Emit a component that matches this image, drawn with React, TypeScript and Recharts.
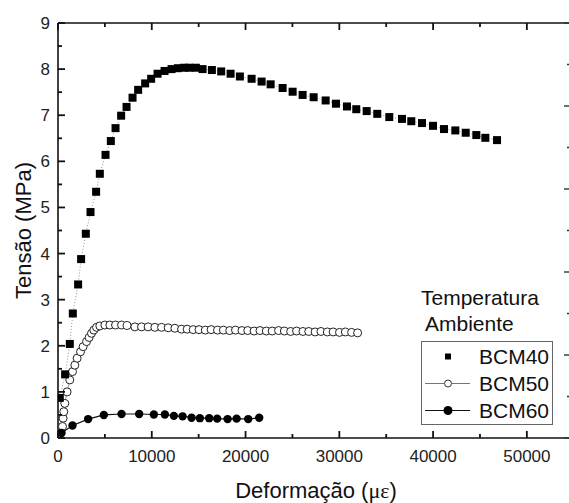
import { LineChart, Line, XAxis, YAxis, Legend } from 'recharts';

// strain (με) and stress (MPa)
const bcm40Strain = [
  192, 758, 1259, 1579, 2145, 2465, 2966, 3468, 4065, 4460, 5068, 5634, 6135, 6733, 7309, 7949,
  8547, 9294, 9934, 10617, 11364, 12110, 12783, 13455, 13989, 14703, 15418, 16410, 17403, 18406,
  19398, 20646, 21713, 22674, 23954, 25021, 26088, 27262, 28542, 29641, 30815, 31807, 32917,
  34048, 35328, 36684, 37676, 38818, 39991, 41165, 42371, 43481, 44611, 45572, 46820,
];
const bcm40Stress = [
  0.87, 1.38, 2.04, 2.7, 3.33, 3.88, 4.43, 4.9, 5.34, 5.73, 6.14, 6.44, 6.72, 6.99, 7.18, 7.38,
  7.55, 7.69, 7.79, 7.9, 7.96, 8.0, 8.02, 8.03, 8.03, 8.03, 8.0, 7.98, 7.95, 7.9,
  7.84, 7.79, 7.73, 7.67, 7.59, 7.51, 7.44, 7.39, 7.32, 7.25, 7.19, 7.13, 7.09,
  7.03, 6.96, 6.92, 6.87, 6.83, 6.77, 6.7, 6.67, 6.62, 6.57, 6.51, 6.46,
];

const bcm50Strain = [
  480, 544, 619, 726, 971, 1259, 1547, 1793, 2038, 2401, 2678, 3041, 3318, 3574, 3820, 4108,
  4460, 4994, 5527, 6135, 6776, 7373, 8195, 8909, 9614, 10329, 11043, 11748, 12463, 13178, 13775,
  14420, 15040, 15710, 16330, 17010, 17640, 18310, 18930, 19620, 20240, 20910, 21540, 22210,
  22840, 23520, 24140, 24810, 25440, 26120, 26740, 27420, 28040, 28720, 29340, 30020, 30640,
  31310, 31950,
];
const bcm50Stress = [
  0.25, 0.43, 0.57, 0.75, 1.0, 1.26, 1.44, 1.58, 1.73, 1.87, 1.98, 2.09, 2.18, 2.27, 2.34, 2.4,
  2.43, 2.45, 2.45, 2.45, 2.45, 2.44, 2.41, 2.41, 2.41, 2.4, 2.4, 2.39, 2.38, 2.36, 2.36,
  2.35, 2.35, 2.34, 2.35, 2.34, 2.34, 2.33, 2.34, 2.33, 2.33, 2.32, 2.33, 2.32,
  2.32, 2.33, 2.32, 2.31, 2.32, 2.31, 2.31, 2.3, 2.31, 2.3, 2.3, 2.29, 2.3,
  2.29, 2.28,
];

const bcm60Strain = [
  373, 1547, 3212, 4887, 6776, 8653, 10222, 11396, 12356, 13284, 14244, 15130, 16122, 16976,
  18086, 19046, 20284, 21457,
];
const bcm60Stress = [
  0.11, 0.27, 0.41, 0.5, 0.52, 0.52, 0.51, 0.51, 0.48, 0.47, 0.44, 0.43, 0.43, 0.42,
  0.41, 0.42, 0.41, 0.44,
];

const xTicks = [0, 5000, 10000, 15000, 20000, 25000, 30000, 35000, 40000, 45000, 50000];
const yTicks = [0, 0.5, 1, 1.5, 2, 2.5, 3, 3.5, 4, 4.5, 5, 5.5, 6, 6.5, 7, 7.5, 8, 8.5, 9];
const rightTicks = [0, 0.5, 1, 1.5, 2, 2.5, 3, 3.5, 4, 4.5, 5];

const toPoints = (xs: number[], ys: number[]) => xs.map((x, i) => ({ x, y: ys[i] }));

const bcm40 = toPoints(bcm40Strain, bcm40Stress);
const bcm50 = toPoints(bcm50Strain, bcm50Stress);
const bcm60 = toPoints(bcm60Strain, bcm60Stress);

const FONT = '"Liberation Sans", Arial, sans-serif';
const AXIS = '#111';

// ticks point inward, minor ones shorter and unlabelled
const BottomTick = (props: any) => {
  const { x, y, payload } = props;
  const major = payload.value % 10000 === 0;
  return (
    <g>
      <line x1={x} y1={y} x2={x} y2={y - (major ? 7 : 4)} stroke={AXIS} strokeWidth={1.8} />
      {major && (
        <text x={x} y={y + 24} textAnchor="middle" fontSize={17} fontFamily={FONT} fill="#222">
          {payload.value}
        </text>
      )}
    </g>
  );
};

const TopTick = (props: any) => {
  const { x, y, payload } = props;
  const major = payload.value % 10000 === 0;
  return <line x1={x} y1={y} x2={x} y2={y + (major ? 7 : 4)} stroke={AXIS} strokeWidth={1.8} />;
};

const LeftTick = (props: any) => {
  const { x, y, payload } = props;
  const major = Number.isInteger(payload.value);
  return (
    <g>
      <line x1={x} y1={y} x2={x + (major ? 7 : 4)} y2={y} stroke={AXIS} strokeWidth={1.8} />
      {major && (
        <text x={x - 8} y={y + 6} textAnchor="end" fontSize={17} fontFamily={FONT} fill="#222">
          {payload.value}
        </text>
      )}
    </g>
  );
};

const RightTick = (props: any) => {
  const { x, y, payload } = props;
  const major = Number.isInteger(payload.value);
  return <line x1={x} y1={y} x2={x - (major ? 6 : 3)} y2={y} stroke="#333" strokeWidth={1.4} />;
};

const SquareDot = (props: any) => {
  const { cx, cy, index } = props;
  return <rect key={`s${index}`} x={cx - 4} y={cy - 4} width={8} height={8} fill="#000" />;
};

const OpenDot = (props: any) => {
  const { cx, cy, index } = props;
  return <circle key={`o${index}`} cx={cx} cy={cy} r={4} fill="#fff" stroke="#222" strokeWidth={1} />;
};

const FilledDot = (props: any) => {
  const { cx, cy, index } = props;
  return <circle key={`f${index}`} cx={cx} cy={cy} r={4.2} fill="#000" />;
};

const XTitle = (props: any) => {
  const { viewBox } = props;
  return (
    <text x={viewBox.x + viewBox.width / 2 + 2} y={viewBox.y + 60} textAnchor="middle" fontSize={22} fontFamily={FONT} fill="#111">
      Deformação (<tspan fontFamily='"Liberation Serif", serif'>με</tspan>)
    </text>
  );
};

const YTitle = (props: any) => {
  const { viewBox } = props;
  const cy = viewBox.y + viewBox.height / 2;
  return (
    <text x={31} y={cy} transform={`rotate(-90 31 ${cy})`} textAnchor="middle" fontSize={22} fontFamily={FONT} fill="#111">
      Tensão (MPa)
    </text>
  );
};

const legendRows = [
  { name: 'BCM40', kind: 'square' },
  { name: 'BCM50', kind: 'open' },
  { name: 'BCM60', kind: 'filled' },
];

const LegendBox = () => (
  <div style={{ fontFamily: FONT, color: '#111' }}>
    <div style={{ fontSize: 21, lineHeight: '26px' }}>Temperatura</div>
    <div style={{ fontSize: 21, lineHeight: '26px', paddingLeft: 4 }}>Ambiente</div>
    <div style={{ marginTop: 4, width: 132, height: 84, boxSizing: 'border-box', border: '1px solid #666', paddingTop: 1 }}>
      {legendRows.map((r) => (
        <div key={r.name} style={{ display: 'flex', alignItems: 'center', height: 27 }}>
          <svg width={50} height={27} style={{ display: 'block' }}>
            {r.kind !== 'square' && (
              <line x1={3} y1={13.5} x2={48} y2={13.5} stroke={r.kind === 'open' ? '#777' : '#111'} strokeWidth={1} />
            )}
            {r.kind === 'square' && <rect x={23} y={10.5} width={6} height={6} fill="#000" />}
            {r.kind === 'open' && <circle cx={26} cy={13.5} r={3.5} fill="#fff" stroke="#333" />}
            {r.kind === 'filled' && <circle cx={26} cy={13.5} r={4.5} fill="#000" />}
          </svg>
          <span style={{ fontSize: 21, marginLeft: 7, lineHeight: '27px' }}>{r.name}</span>
        </div>
      ))}
    </div>
  </div>
);

export default function App() {
  return (
    <div style={{ position: 'absolute', left: 0, top: 0, width: 569, height: 503, overflow: 'hidden', background: '#fff' }}>
      <LineChart width={572} height={503} margin={{ top: 12, right: 1, bottom: 25, left: 18 }}>
        <XAxis
          dataKey="x"
          type="number"
          domain={[0, 54600]}
          allowDataOverflow
          ticks={xTicks}
          interval={0}
          height={40}
          tickSize={0}
          tickMargin={0}
          tickLine={false}
          axisLine={{ stroke: AXIS, strokeWidth: 1.6 }}
          tick={BottomTick}
          label={{ content: XTitle }}
        />
        <XAxis
          xAxisId="top"
          dataKey="x"
          orientation="top"
          type="number"
          domain={[0, 54600]}
          allowDataOverflow
          ticks={xTicks}
          interval={0}
          height={11}
          tickSize={0}
          tickMargin={0}
          tickLine={false}
          axisLine={{ stroke: AXIS, strokeWidth: 1.6 }}
          tick={TopTick}
        />
        <YAxis
          type="number"
          domain={[0, 9]}
          allowDataOverflow
          ticks={yTicks}
          interval={0}
          width={40}
          tickSize={0}
          tickMargin={0}
          tickLine={false}
          axisLine={{ stroke: AXIS, strokeWidth: 1.6 }}
          tick={LeftTick}
          label={{ content: YTitle }}
        />
        <YAxis
          yAxisId="right"
          orientation="right"
          type="number"
          domain={[0, 5]}
          allowDataOverflow
          ticks={rightTicks}
          interval={0}
          width={1}
          tickSize={0}
          tickMargin={0}
          tickLine={false}
          axisLine={{ stroke: AXIS, strokeWidth: 1.6 }}
          tick={RightTick}
        />
        <Legend
          layout="vertical"
          align="center"
          verticalAlign="middle"
          content={LegendBox}
          wrapperStyle={{ left: 421, top: 285, width: 140 }}
        />
        {/* carries the top and right frame axes */}
        <Line
          data={bcm60}
          dataKey="y"
          xAxisId="top"
          yAxisId="right"
          stroke="none"
          dot={false}
          activeDot={false}
          legendType="none"
          isAnimationActive={false}
        />
        <Line data={bcm50} dataKey="y" name="BCM50" type="linear" stroke="#888" strokeWidth={0.8}
          dot={OpenDot} activeDot={false} isAnimationActive={false} />
        <Line data={bcm60} dataKey="y" name="BCM60" type="linear" stroke="#111" strokeWidth={1.2}
          dot={FilledDot} activeDot={false} isAnimationActive={false} />
        <Line data={bcm40} dataKey="y" name="BCM40" type="linear" stroke="#777" strokeWidth={0.8}
          strokeDasharray="1 2" dot={SquareDot} activeDot={false} isAnimationActive={false} />
      </LineChart>
    </div>
  );
}
